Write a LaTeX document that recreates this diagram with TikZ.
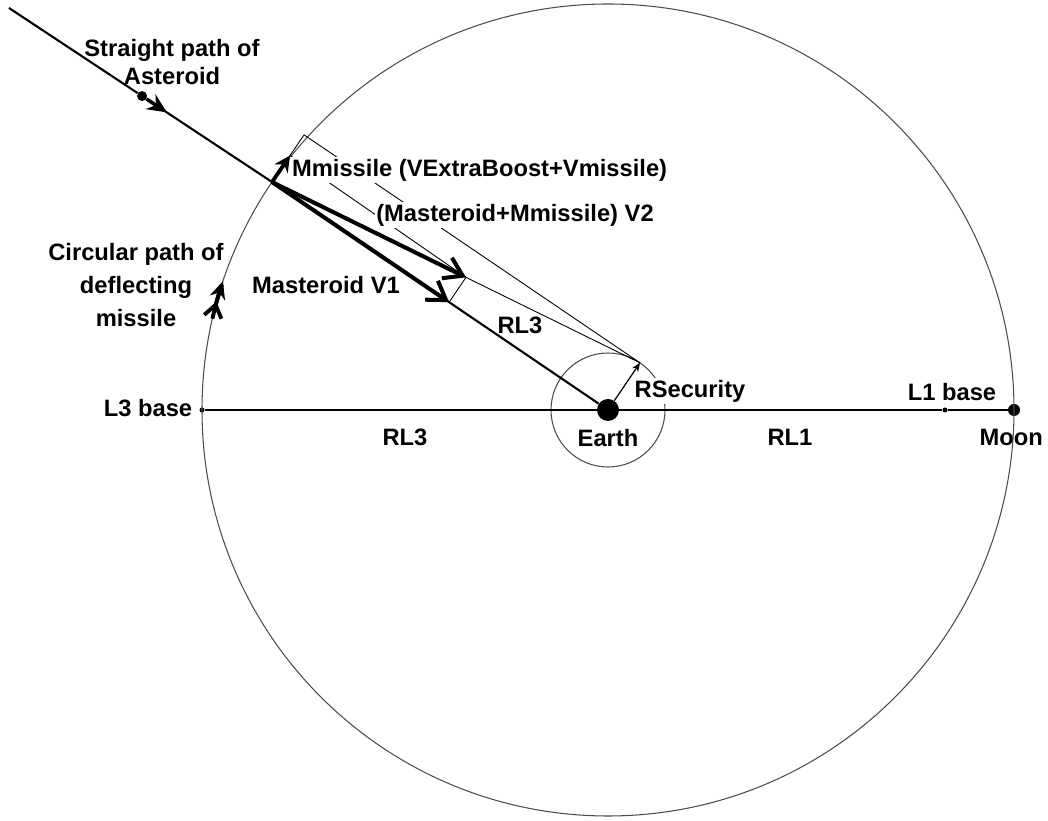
\documentclass[tikz,border=0pt]{standalone}
\usepackage{fontspec}
\setmainfont{Liberation Sans}
\usetikzlibrary{arrows.meta, calc, positioning}

\begin{document}
\begin{tikzpicture}[x=0.02cm, y=0.02cm,
    lbl/.style={font=\bfseries\fontsize{13.5}{16}\selectfont, inner sep=1pt},
    orbit/.style={draw=black!70, line width=0.6pt},
    track/.style={line width=1.2pt},
    vec/.style={-{Straight Barb[length=10pt, width=13pt]}, line width=2.3pt},
    guide/.style={line width=0.5pt},
    dot/.style={circle, fill, inner sep=0pt, minimum size=#1}
]
    \useasboundingbox (0,0) rectangle (1048,821);

    % bodies and bases
    \coordinate (E) at (608,411);
    \node[dot=0.44cm] (earth) at (E) {};
    \node[dot=0.24cm] (moon) at (1014,411) {};
    \node[dot=0.1cm] (l3) at (202,411) {};
    \node[dot=0.1cm] (l1) at (945,411) {};

    % construction points
    \coordinate (P) at ($(E)+(145.84:406)$);
    \coordinate (start) at (9,813);
    \node[dot=0.2cm] (ast) at ($(start)!0.506!(P)$) {};
    \coordinate (astdir) at ($(start)!0.6!(P)$);
    \coordinate (M) at ($(P)+(55.84:32)$);
    \coordinate (C) at ($(P)+(55.84:57)$);
    \coordinate (T1) at ($(P)+(-34.16:214)$);
    \coordinate (T2) at ($(T1)+(55.84:30)$);
    \coordinate (S) at ($(E)+(55.84:57)$);
    \coordinate (mtail) at ($(E)+(167:406)$);

    % orbits
    \draw[orbit] (E) circle[radius=406];
    \draw[orbit] (E) circle[radius=57];

    % paths
    \draw[track] (start) -- (ast) -- (P) -- (earth);
    \draw[track] (l3) -- (earth) -- (l1) -- (moon);
    \draw[-{Stealth[length=11pt, width=10pt]}, line width=2pt] (ast) -- (astdir);

    % vectors
    \draw[guide] (P) -- (C) -- (S);
    \draw[guide] (M) -- (T2) -- (S);
    \draw[guide] (T1) -- (T2);
    \draw[vec] (P) -- (T1);
    \draw[vec] (P) -- (T2);
    \draw[-{Stealth[length=9pt, width=9pt]}, line width=2.2pt] (P) -- (M);
    \draw[-{Stealth[length=5pt, width=4pt]}, line width=0.7pt] (earth) -- (S);

    % labels
    \node[lbl, align=center] (astlbl) at (172,759) {Straight path of\\Asteroid};
    \node[lbl, align=center, font=\bfseries\fontsize{13.5}{19}\selectfont] (misslbl) at (136,536) {Circular path of\\deflecting\\missile};
    \node[lbl, fill=white, anchor=west] (mmlbl) at (290,651) {Mmissile (VExtraBoost+Vmissile)};
    \node[lbl, fill=white] (v2lbl) at (515,606) {(Masteroid+Mmissile) V2};
    \node[lbl] (v1lbl) at (326,536) {Masteroid V1};
    \node[lbl] (rl3a) at (520,496) {RL3};
    \node[lbl, fill=white] (rsec) at (690,430) {RSecurity};
    \node[lbl] (l3lbl) at (148,413) {L3 base};
    \node[lbl] (rl3b) at (405,384) {RL3};
    \node[lbl] (earthlbl) at (608,383) {Earth};
    \node[lbl] (rl1) at (790,384) {RL1};
    \node[lbl] (l1lbl) at (952,429) {L1 base};
    \node[lbl, anchor=east] (moonlbl) at (1045,384) {Moon};

    % missile on its circular path
    \draw[line width=2.2pt] (mtail) arc[start angle=167, end angle=162, radius=406];
    \draw[{Straight Barb[reversed, length=7pt, width=10pt]}-{Stealth[length=10pt, width=9pt]}, line width=2.2pt]
        (mtail) arc[start angle=167, end angle=161.5, radius=406];
\end{tikzpicture}
\end{document}
